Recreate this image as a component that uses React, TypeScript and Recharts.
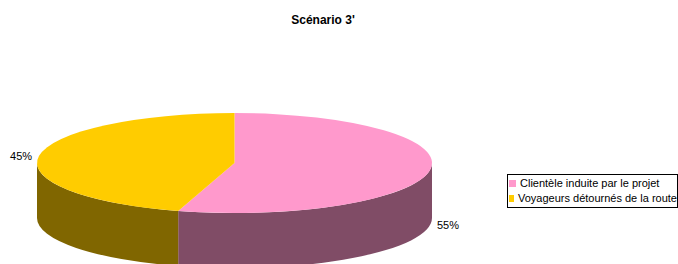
import React from "react";
import { PieChart, Pie, Legend } from "recharts";

const categories = ["Clientèle induite par le projet", "Voyageurs détournés de la route"];
const values = [54.6, 45.4];
const topColors = ["#FF99CC", "#FFCC00"];
const sideColors = ["#804C66", "#806600"];

const data = categories.map((name, i) => ({ name, value: values[i], fill: topColors[i], side: sideColors[i] }));

const W = 678;
const H = 264;
const CX = 234.5;
const CY = 163;
const R = 197.5;
const K = 50 / 197.5; // vertical squash of the tilted disk
const DEPTH = 55;
const RAD = Math.PI / 180;
const FONT = "Liberation Sans, Arial, sans-serif";

const pt = (cx: number, cy: number, r: number, a: number) => ({
  x: cx + r * Math.cos(a * RAD),
  y: cy - r * K * Math.sin(a * RAD),
});

function Slice3D(props: any) {
  const { cx, cy, outerRadius: r, startAngle, endAngle, payload } = props;
  const rx = r;
  const ry = r * K;
  const hi = Math.max(startAngle, endAngle);
  const lo = Math.min(startAngle, endAngle);
  const sweep = hi - lo;

  // top face: clockwise from hi to lo
  const p1 = pt(cx, cy, r, hi);
  const p2 = pt(cx, cy, r, lo);
  const top = `M${cx},${cy} L${p1.x},${p1.y} A${rx},${ry} 0 ${sweep > 180 ? 1 : 0} 1 ${p2.x},${p2.y} Z`;

  // side wall: only the part of the arc on the front half
  const sides: string[] = [];
  for (const base of [0, -360, 360]) {
    const a1 = Math.min(hi, base);
    const a2 = Math.max(lo, base - 180);
    if (a1 > a2) {
      const s = pt(cx, cy, r, a1);
      const e = pt(cx, cy, r, a2);
      sides.push(
        `M${s.x},${s.y} A${rx},${ry} 0 0 1 ${e.x},${e.y} L${e.x},${e.y + DEPTH} A${rx},${ry} 0 0 0 ${s.x},${s.y + DEPTH} Z`
      );
    }
  }

  return (
    <g>
      {sides.map((d, i) => (
        <path key={i} d={d} fill={payload.side} stroke="none" />
      ))}
      <path d={top} fill={payload.fill} stroke="none" />
    </g>
  );
}

function renderLabel(props: any) {
  const { cx, cy, outerRadius: r, midAngle, percent } = props;
  const p = pt(cx, cy, r, midAngle);
  const front = Math.sin(midAngle * RAD) < 0;
  const right = Math.cos(midAngle * RAD) >= 0;
  const x = p.x + (right ? 7 : -7);
  const y = p.y + (front ? DEPTH : 0);
  return (
    <text
      x={x}
      y={y}
      textAnchor={right ? "start" : "end"}
      dominantBaseline="central"
      fontFamily={FONT}
      fontSize={11}
      fill="#000"
    >
      {`${Math.round(percent * 100)}%`}
    </text>
  );
}

function LegendBox() {
  return (
    <div
      style={{
        border: "1px solid #000",
        background: "#fff",
        padding: "1px 0 1px 1px",
        width: 168,
        fontFamily: FONT,
        fontSize: 11,
        lineHeight: "15px",
        color: "#000",
      }}
    >
      {data.map((d) => (
        <div key={d.name} style={{ display: "flex", alignItems: "center", whiteSpace: "nowrap" }}>
          <span style={{ display: "inline-block", width: 7, height: 7, background: d.fill, marginRight: 4 }} />
          {d.name}
        </div>
      ))}
    </div>
  );
}

export default function App() {
  return (
    <div style={{ position: "absolute", left: 0, top: 0, width: W, height: H, background: "#fff" }}>
      <PieChart width={W} height={H} margin={{ top: 0, right: 0, bottom: 0, left: 0 }}>
        <text x={323} y={20} textAnchor="middle" dominantBaseline="central" fontFamily={FONT} fontSize={12} fontWeight="bold" fill="#000">
          Scénario 3'
        </text>
        <Pie
          data={data}
          dataKey="value"
          nameKey="name"
          cx={CX}
          cy={CY}
          outerRadius={R}
          startAngle={90}
          endAngle={-270}
          shape={Slice3D}
          label={renderLabel}
          labelLine={false}
          stroke="none"
          isAnimationActive={false}
        />
        <Legend
          layout="vertical"
          content={() => <LegendBox />}
          wrapperStyle={{ position: "absolute", left: 507, top: 174, width: 170 }}
        />
      </PieChart>
    </div>
  );
}
